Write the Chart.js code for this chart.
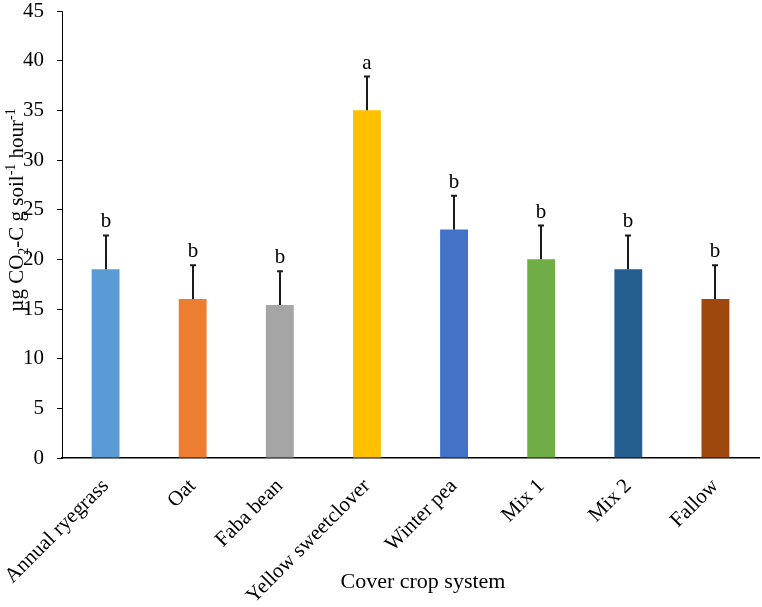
<!DOCTYPE html>
<html>
<head>
<meta charset="utf-8">
<script src="https://cdn.jsdelivr.net/npm/chart.js@4/dist/chart.umd.min.js"></script>
<style>
html,body{margin:0;padding:0;background:#fff;}
#wrap{width:762px;height:607px;position:relative;}
</style>
</head>
<body>
<div id="wrap"><canvas id="c" width="762" height="607"></canvas></div>
<script>
const categories = ["Annual ryegrass","Oat","Faba bean","Yellow sweetclover","Winter pea","Mix 1","Mix 2","Fallow"];
const values = [19, 16, 15.4, 35, 23, 20, 19, 16];
const errors = [3.4, 3.4, 3.4, 3.4, 3.4, 3.4, 3.4, 3.4];
const letters = ["b","b","b","a","b","b","b","b"];
const colors = ["#5B9BD5","#ED7D31","#A5A5A5","#FFC000","#4472C4","#70AD47","#255E91","#9E480E"];
const yTicks = [0,5,10,15,20,25,30,35,40,45];
const xTitle = "Cover crop system";

const FONT = '"Liberation Serif", "Times New Roman", serif';

const errorPlugin = {
  id: 'errbars',
  afterDatasetsDraw(chart) {
    const ctx = chart.ctx;
    const meta = chart.getDatasetMeta(0);
    const y = chart.scales.y;
    ctx.save();
    ctx.strokeStyle = '#1a1a1a';
    ctx.lineWidth = 2;
    ctx.fillStyle = '#000';
    ctx.font = '21px ' + FONT;
    ctx.textAlign = 'center';
    ctx.textBaseline = 'alphabetic';
    meta.data.forEach((bar, i) => {
      const x = Math.round(bar.x) ;
      const y0 = y.getPixelForValue(values[i]);
      const y1 = y.getPixelForValue(values[i] + errors[i]);
      ctx.beginPath();
      ctx.moveTo(x, y0);
      ctx.lineTo(x, y1);
      ctx.moveTo(x - 3, y1);
      ctx.lineTo(x + 3, y1);
      ctx.stroke();
      ctx.fillText(letters[i], x, y1 - 8);
    });
    ctx.restore();
  }
};

const titlesPlugin = {
  id: 'titles',
  afterDraw(chart) {
    const ctx = chart.ctx;
    ctx.save();
    ctx.fillStyle = '#000';
    // x title
    ctx.font = '22px ' + FONT;
    ctx.textAlign = 'center';
    ctx.textBaseline = 'alphabetic';
    ctx.fillText(xTitle, 423, 588);
    // y title with sub/superscripts
    const segs = [
      {t: "\u00B5g CO", k: 'n'},
      {t: "2", k: 'sub'},
      {t: "-C g soil", k: 'n'},
      {t: "-1", k: 'sup'},
      {t: " hour", k: 'n'},
      {t: "-1", k: 'sup'}
    ];
    const big = '21px ' + FONT, small = '14px ' + FONT;
    let total = 0;
    segs.forEach(s => { ctx.font = s.k === 'n' ? big : small; s.w = ctx.measureText(s.t).width; total += s.w; });
    ctx.translate(23, 210);
    ctx.rotate(-Math.PI / 2);
    ctx.textAlign = 'left';
    let x = -total / 2;
    segs.forEach(s => {
      ctx.font = s.k === 'n' ? big : small;
      let dy = 0;
      if (s.k === 'sub') dy = 5;
      if (s.k === 'sup') dy = -8;
      ctx.fillText(s.t, x, dy);
      x += s.w;
    });
    ctx.restore();
  }
};

new Chart(document.getElementById('c'), {
  type: 'bar',
  data: {
    labels: categories,
    datasets: [{
      data: values,
      backgroundColor: colors,
      borderWidth: 0,
      barPercentage: 0.32,
      categoryPercentage: 1.0
    }]
  },
  options: {
    responsive: false,
    animation: false,
    layout: { padding: { left: 0, right: 3, top: 11, bottom: 0 } },
    plugins: { legend: { display: false }, tooltip: { enabled: false } },
    scales: {
      x: {
        grid: { display: false, drawTicks: false },
        border: { display: true, color: '#000', width: 1.5 },
        ticks: {
          color: '#000',
          font: { family: FONT, size: 21 },
          minRotation: 45, maxRotation: 45,
          padding: 16,
          autoSkip: false
        },
        afterFit(scale) {
          scale.height = 149;
          scale.paddingLeft = 0; scale.paddingRight = 0;
          scale.paddingTop = 0; scale.paddingBottom = 0;
        }
      },
      y: {
        min: 0, max: 45,
        afterBuildTicks(scale) { scale.ticks = yTicks.map(v => ({ value: v })); },
        grid: { drawOnChartArea: false, drawTicks: true, tickLength: 5, color: '#000', lineWidth: 1 },
        border: { display: true, color: '#000', width: 1 },
        ticks: {
          color: '#000',
          font: { family: FONT, size: 21 },
          padding: 13
        },
        afterFit(scale) {
          scale.width = 62;
          scale.paddingTop = 0; scale.paddingBottom = 0;
          scale.paddingLeft = 0; scale.paddingRight = 0;
        }
      }
    }
  },
  plugins: [errorPlugin, titlesPlugin]
});
</script>
</body>
</html>
